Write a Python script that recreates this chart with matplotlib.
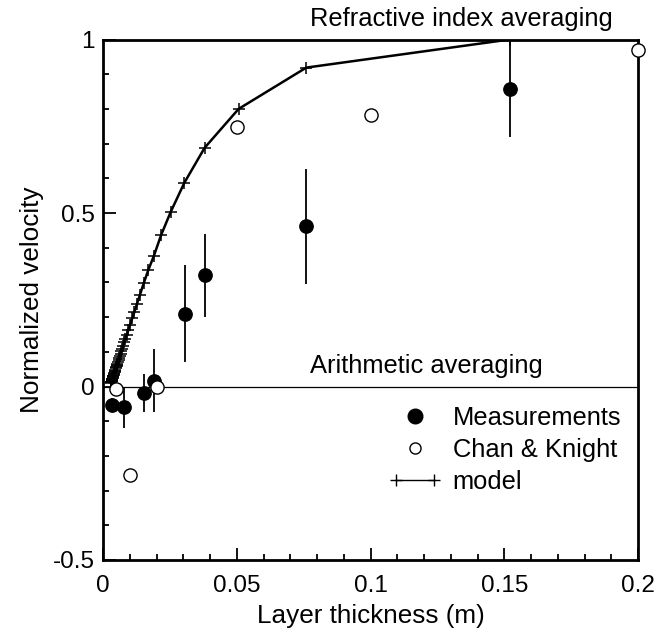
import matplotlib
matplotlib.use("Agg")
import matplotlib.pyplot as plt
from matplotlib.lines import Line2D
from matplotlib.legend_handler import HandlerLine2D

plt.rcParams['font.family'] = ['Liberation Sans', 'DejaVu Sans']

# Measurements (filled circles with error bars)
meas_x = [0.0034, 0.0078, 0.0153, 0.019, 0.0307, 0.0381, 0.076, 0.152]
meas_y = [-0.052, -0.06, -0.018, 0.017, 0.21, 0.32, 0.462, 0.858]
meas_err = [0.02, 0.06, 0.055, 0.09, 0.14, 0.12, 0.166, 0.14]

# Chan & Knight (open circles)
ck_x = [0.005, 0.01, 0.02, 0.05, 0.1, 0.2]
ck_y = [-0.006, -0.255, 0.0, 0.749, 0.783, 0.971]

# model (line with + markers)
model_x = [0.152, 0.076, 0.0507, 0.038, 0.0304, 0.0253, 0.0217, 0.019, 0.0169,
           0.0152, 0.0138, 0.0127, 0.0117, 0.0109, 0.0101, 0.0095, 0.0089, 0.0084,
           0.0080, 0.0076, 0.0072, 0.0069, 0.0066, 0.0063, 0.0061, 0.0058, 0.0056,
           0.0054, 0.0052, 0.0051, 0.0049, 0.0048, 0.0046, 0.0045, 0.0043, 0.0042,
           0.0041, 0.0040, 0.0039, 0.0038, 0.0037, 0.0036, 0.0035, 0.00345, 0.0034,
           0.0033, 0.0032, 0.00317, 0.0031, 0.0030]
model_y = [1.0, 0.919, 0.80, 0.688, 0.587, 0.503, 0.436, 0.376, 0.335,
           0.297, 0.264, 0.238, 0.214, 0.196, 0.177, 0.163, 0.149, 0.137,
           0.128, 0.118, 0.109, 0.102, 0.095, 0.088, 0.083, 0.076, 0.071,
           0.066, 0.062, 0.059, 0.055, 0.052, 0.048, 0.045, 0.041, 0.038,
           0.036, 0.034, 0.031, 0.029, 0.026, 0.024, 0.022, 0.021, 0.019,
           0.017, 0.015, 0.014, 0.012, 0.010]

x_ticks = [0, 0.05, 0.1, 0.15, 0.2]
x_ticklabels = ['0', '0.05', '0.1', '0.15', '0.2']
y_ticks = [-0.5, 0, 0.5, 1]
y_ticklabels = ['-0.5', '0', '0.5', '1']

fig = plt.figure(figsize=(6.67, 6.4), dpi=100)
ax = fig.add_axes([103/667, 80/640, 535/667, 520.5/640])

ax.set_xlim(0, 0.2)
ax.set_ylim(-0.5, 1)

# reference lines
ax.axhline(0, color='black', lw=0.9, zorder=1)
ax.axhline(1, color='black', lw=1.5, zorder=1)

# model
ax.plot(model_x, model_y, color='black', lw=1.8, marker='+', ms=9, mew=1.1, zorder=3)

# measurements
ax.errorbar(meas_x, meas_y, yerr=meas_err, fmt='o', color='black', ms=9.6,
            elinewidth=1.3, capsize=0, zorder=4)

# Chan & Knight
ax.plot(ck_x, ck_y, 'o', mfc='white', mec='black', mew=1.0, ms=9.5,
        clip_on=False, zorder=5)

# annotations
ax.text(0.0772, 1.039, 'Refractive index averaging', fontsize=18.4,
        ha='left', va='baseline', clip_on=False)
ax.text(0.0772, 0.039, 'Arithmetic averaging', fontsize=18.4,
        ha='left', va='baseline')

ax.set_xticks(x_ticks)
ax.set_xticklabels(x_ticklabels)
ax.set_yticks(y_ticks)
ax.set_yticklabels(y_ticklabels)
ax.set_xticks([i / 100 for i in range(21)], minor=True)
ax.set_yticks([-0.5 + i / 10 for i in range(16)], minor=True)
ax.tick_params(which='both', direction='in', labelsize=17.5, width=1.3)
ax.tick_params(axis='x', which='major', length=9, pad=11)
ax.tick_params(axis='y', which='major', length=9, pad=6)
ax.tick_params(which='minor', length=4.5)

for s in ax.spines.values():
    s.set_linewidth(2.0)

ax.set_xlabel('Layer thickness (m)', fontsize=18.8, labelpad=5)
ax.set_ylabel('Normalized velocity', fontsize=18.8, labelpad=6)

handles = [
    Line2D([], [], ls='none', marker='o', color='black', ms=10.5),
    Line2D([], [], ls='none', marker='o', mfc='white', mec='black', mew=1.0, ms=8),
    Line2D([], [], color='black', lw=1.0, marker='+', ms=9, mew=1.0),
]
leg = ax.legend(handles, ['Measurements', 'Chan & Knight', 'model'],
                loc='center left', bbox_to_anchor=((388 - 103) / 535, (560 - 450) / 520.5),
                frameon=False, fontsize=18.4, borderpad=0, borderaxespad=0,
                handlelength=2.1, handletextpad=0.43, labelspacing=0.3,
                handler_map={handles[0]: HandlerLine2D(numpoints=1),
                             handles[1]: HandlerLine2D(numpoints=1),
                             handles[2]: HandlerLine2D(numpoints=2)})

fig.savefig('out.png', dpi=100)
